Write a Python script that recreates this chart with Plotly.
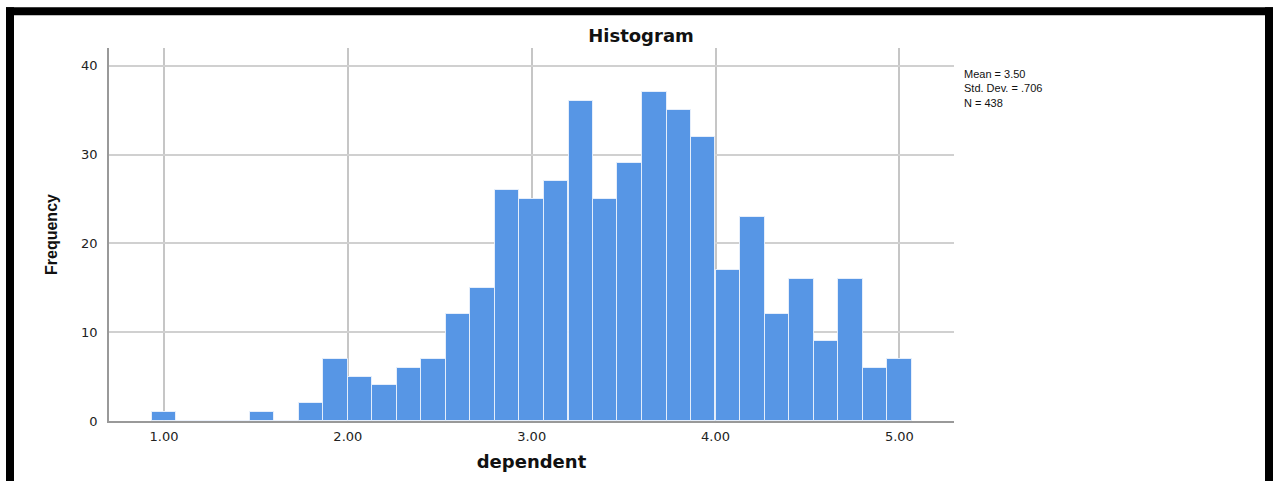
import plotly.graph_objects as go

# ---- data ----
bin_centers = [1.000, 1.133, 1.267, 1.400, 1.533, 1.667, 1.800, 1.933, 2.067, 2.200,
               2.333, 2.467, 2.600, 2.733, 2.867, 3.000, 3.133, 3.267, 3.400, 3.533,
               3.667, 3.800, 3.933, 4.067, 4.200, 4.333, 4.467, 4.600, 4.733, 4.867, 5.000]
frequencies = [1, 0, 0, 0, 1, 0, 2, 7, 5, 4,
               6, 7, 12, 15, 26, 25, 27, 36, 25, 29,
               37, 35, 32, 17, 23, 12, 16, 9, 16, 6, 7]
bin_width = 0.1333
x_tick_values = [1, 2, 3, 4, 5]
x_tick_labels = ["1.00", "2.00", "3.00", "4.00", "5.00"]
y_tick_values = [0, 10, 20, 30, 40]
stats_lines = ["Mean = 3.50", "Std. Dev. = .706", "N = 438"]

W, H = 1273, 481
L, R, T, B = 109, 954, 48, 424  # plot area in pixels


def px(x):
    return (x - L) / (R - L)


def py(y):
    return (B - y) / (B - T)


fig = go.Figure()
fig.add_trace(go.Bar(
    x=bin_centers, y=frequencies, width=bin_width,
    marker=dict(color="#5796E5", line=dict(color="rgba(235,242,252,0.9)", width=1)),
    showlegend=False,
))

axis_font = dict(family="DejaVu Sans", size=13, color="#222")

fig.update_layout(
    width=W, height=H,
    margin=dict(l=L, r=W - R, t=T, b=H - B, pad=0),
    paper_bgcolor="white", plot_bgcolor="white",
    bargap=0,
    title=dict(text="<b>Histogram</b>", x=641 / W, xref="container", xanchor="center",
               y=1 - 36 / H, yref="container", yanchor="middle",
               font=dict(family="DejaVu Sans", size=18, color="#111")),
    xaxis=dict(
        range=[0.701, 5.297], tickvals=x_tick_values, ticktext=x_tick_labels,
        showgrid=True, gridcolor="#c6c6c6", gridwidth=1.5,
        showline=True, linecolor="#999", linewidth=1.5,
        zeroline=False, ticks="", tickfont=axis_font, ticklabelstandoff=3,
        title=dict(text="<b>dependent</b>", standoff=12,
                   font=dict(family="DejaVu Sans", size=18, color="#111")),
    ),
    yaxis=dict(
        range=[0, 42], tickvals=y_tick_values,
        showgrid=True, gridcolor="#d0d0d0", gridwidth=1.5,
        showline=True, linecolor="#999", linewidth=1.5,
        zeroline=False, ticks="", tickfont=axis_font, ticklabelstandoff=7,
        title=dict(text="<b>Frequency</b>", standoff=20,
                   font=dict(family="Liberation Sans", size=16, color="#111")),
    ),
)

# statistics box text
fig.add_annotation(
    text="<br>".join(stats_lines), xref="paper", yref="paper", x=px(962), y=py(66),
    xanchor="left", yanchor="top", align="left", showarrow=False,
    font=dict(family="Liberation Sans", size=11, color="#111"),
)

# black frame
frame = [(6, 7, 1273, 15), (6, 7, 14, 485), (1265, 7, 1273, 485)]
for x0, y0, x1, y1 in frame:
    fig.add_shape(type="rect", xref="paper", yref="paper",
                  x0=px(x0), x1=px(x1), y0=py(y0), y1=py(y1),
                  fillcolor="black", line=dict(width=0), layer="above")

fig.write_html("out.html", config={"displayModeBar": False},
               post_script="document.body.style.margin='0';document.body.style.overflow='hidden';")
